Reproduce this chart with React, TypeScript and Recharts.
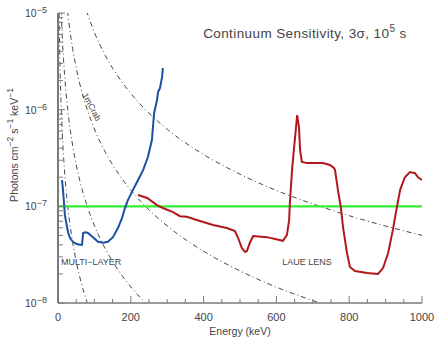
import React from 'react';
import { LineChart, Line, XAxis, YAxis, ReferenceLine, ReferenceDot } from 'recharts';

// ---- tick labels ----
const xTicks = [0, 50, 100, 150, 200, 250, 300, 350, 400, 450, 500, 550, 600, 650, 700, 750, 800, 850, 900, 950, 1000];
const xMajor = [0, 200, 400, 600, 800, 1000];
const yTicks = [
  1e-8, 2e-8, 3e-8, 4e-8, 5e-8, 6e-8, 7e-8, 8e-8, 9e-8,
  1e-7, 2e-7, 3e-7, 4e-7, 5e-7, 6e-7, 7e-7, 8e-7, 9e-7,
  1e-6, 2e-6, 3e-6, 4e-6, 5e-6, 6e-6, 7e-6, 8e-6, 9e-6,
  1e-5,
];
const yMajor = [1e-8, 1e-7, 1e-6, 1e-5];
const yMajorExp = ['8', '7', '6', '5'];

// ---- multi-layer (blue) ----
const blueE = [11, 13.7, 19, 27.5, 33, 41, 50, 60, 66, 69, 75, 82, 96, 110, 124, 137, 151, 165, 176, 184, 192, 206, 220, 234, 247, 258, 264, 272, 275, 280, 286, 288];
const blueV = [1.87e-7, 1.48e-7, 8.1e-8, 5.4e-8, 4.7e-8, 4.3e-8, 4.1e-8, 4.0e-8, 4.0e-8, 5.3e-8, 5.4e-8, 5.3e-8, 4.8e-8, 4.3e-8, 4.2e-8, 4.3e-8, 4.8e-8, 6.0e-8, 7.6e-8, 9.6e-8, 1.16e-7, 1.48e-7, 1.87e-7, 2.38e-7, 3.24e-7, 4.85e-7, 9.2e-7, 1.26e-6, 1.52e-6, 1.67e-6, 2.18e-6, 2.7e-6];

// ---- Laue lens (red) ----
const redE = [220, 245, 272, 288, 316, 335, 354, 390, 426, 464, 486, 495, 505, 514, 519, 527, 536, 574, 618, 629, 635, 637, 643, 648, 654, 657, 662, 665, 670, 684, 728, 747, 758, 761, 769, 777, 783, 794, 802, 816, 849, 879, 893, 907, 920, 931, 940, 953, 967, 981, 989, 1000];
const redV = [1.31e-7, 1.22e-7, 1.03e-7, 9.6e-8, 8.7e-8, 7.9e-8, 7.8e-8, 7.05e-8, 6.4e-8, 5.97e-8, 5.56e-8, 4.7e-8, 3.7e-8, 3.37e-8, 3.45e-8, 4.18e-8, 4.93e-8, 4.8e-8, 4.4e-8, 5.06e-8, 7.2e-8, 1.08e-7, 2.38e-7, 3.83e-7, 6.6e-7, 8.8e-7, 6.6e-7, 3.83e-7, 2.88e-7, 2.8e-7, 2.8e-7, 2.68e-7, 2.5e-7, 2.38e-7, 1.48e-7, 9.8e-8, 6.1e-8, 3.29e-8, 2.36e-8, 2.14e-8, 2.04e-8, 2.0e-8, 2.3e-8, 3.29e-8, 5.7e-8, 9.8e-8, 1.48e-7, 2.0e-7, 2.26e-7, 2.2e-7, 2.0e-7, 1.87e-7];

// ---- 3 sigma level (green) ----
const greenLevel = 1e-7;

// ---- Crab-fraction reference curves (dashed) ----
const crab001E = [2, 3, 4, 5, 6, 8, 10, 13, 16, 20, 25, 30, 40, 50, 60, 70, 80, 90];
const crab001V = [2.33e-5, 9.95e-6, 5.44e-6, 3.4e-6, 2.32e-6, 1.27e-6, 7.94e-7, 4.58e-7, 2.96e-7, 1.86e-7, 1.16e-7, 7.9e-8, 4.32e-8, 2.71e-8, 1.84e-8, 1.33e-8, 1.01e-8, 7.86e-9];
const crab01E = [5, 7, 9, 12, 15, 20, 25, 30, 40, 50, 60, 80, 100, 130, 160, 200, 250];
const crab01V = [3.4e-5, 1.68e-5, 9.9e-6, 5.41e-6, 3.39e-6, 1.86e-6, 1.16e-6, 7.9e-7, 4.32e-7, 2.71e-7, 1.84e-7, 1.01e-7, 6.31e-8, 3.63e-8, 2.35e-8, 1.47e-8, 9.2e-9];
const crab1E = [20, 25, 30, 40, 50, 60, 80, 100, 130, 160, 200, 250, 300, 400, 500, 600, 700, 800];
const crab1V = [1.86e-5, 1.16e-5, 7.9e-6, 4.32e-6, 2.71e-6, 1.84e-6, 1.01e-6, 6.31e-7, 3.63e-7, 2.35e-7, 1.47e-7, 9.2e-8, 6.27e-8, 3.43e-8, 2.15e-8, 1.46e-8, 1.06e-8, 8.0e-9];
const crab10E = [60, 80, 100, 130, 160, 200, 250, 300, 400, 500, 600, 700, 800, 900, 1000];
const crab10V = [1.84e-5, 1.01e-5, 6.31e-6, 3.63e-6, 2.35e-6, 1.47e-6, 9.2e-7, 6.27e-7, 3.43e-7, 2.15e-7, 1.46e-7, 1.06e-7, 8.0e-8, 6.25e-8, 5.01e-8];

const zip = (xs: number[], vs: number[]) => xs.map((E, i) => ({ E, v: vs[i] }));

const blueData = zip(blueE, blueV);
const redData = zip(redE, redV);
const dashed = [zip(crab001E, crab001V), zip(crab01E, crab01V), zip(crab1E, crab1V), zip(crab10E, crab10V)];

const FONT = "'Liberation Sans', Arial, sans-serif";
const AXIS = '#7a7a7a';
const TXT = '#444';

const isMajorY = (v: number) => yMajor.some((m) => Math.abs(v / m - 1) < 1e-6);

const BottomTick = (props: any) => {
  const { x, y, payload } = props;
  const major = xMajor.includes(payload.value);
  return (
    <g>
      <line x1={x} y1={y} x2={x} y2={y - (major ? 7 : 4)} stroke={AXIS} strokeWidth={1} />
      {major && (
        <text x={x} y={y + 18} textAnchor="middle" fontSize={11} fill={TXT} fontFamily={FONT}>
          {payload.value}
        </text>
      )}
    </g>
  );
};

const TopTick = (props: any) => {
  const { x, y, payload } = props;
  const major = xMajor.includes(payload.value);
  return <line x1={x} y1={y} x2={x} y2={y + (major ? 7 : 4)} stroke={AXIS} strokeWidth={1} />;
};

const LeftTick = (props: any) => {
  const { x, y, payload } = props;
  const major = isMajorY(payload.value);
  return <line x1={x} y1={y} x2={Number(x) + (major ? 7 : 5)} y2={y} stroke={AXIS} strokeWidth={1} />;
};

const RightTick = (props: any) => {
  const { x, y, payload } = props;
  const major = isMajorY(payload.value);
  return <line x1={x} y1={y} x2={Number(x) - (major ? 7 : 5)} y2={y} stroke={AXIS} strokeWidth={1} />;
};

const TextAt = (content: React.ReactNode, opts: { anchor?: string; size?: number; rotate?: number; spacing?: number; dx?: number }) => (p: any) => {
  const cx = p.cx + (opts.dx || 0);
  const cy = p.cy;
  return (
    <text
      x={cx}
      y={cy}
      textAnchor={opts.anchor || 'middle'}
      dominantBaseline="central"
      fontSize={opts.size || 9}
      letterSpacing={opts.spacing || 0}
      fill={TXT}
      fontFamily={FONT}
      transform={opts.rotate ? `rotate(${opts.rotate}, ${cx}, ${cy})` : undefined}
    >
      {content}
    </text>
  );
};

const DecadeLabel = (exp: string) => (p: any) => {
  const x = p.cx - 33;
  const y = p.cy + 4;
  return (
    <text x={x} y={y} textAnchor="start" fontSize={10.5} fill={TXT} fontFamily={FONT}>
      10
      <tspan dy={-4} fontSize={9}>{'\u2212' + exp}</tspan>
    </text>
  );
};

export default function App() {
  return (
    <div style={{ position: 'absolute', left: 0, top: 0, width: 436, height: 341, background: '#fff' }}>
      <LineChart width={436} height={341} margin={{ top: 13, right: 14, bottom: 0, left: 0 }} style={{ fontFamily: FONT }}>
        <XAxis
          dataKey="E"
          type="number"
          domain={[0, 1000]}
          ticks={xTicks}
          interval={0}
          height={38}
          tickSize={0}
          tickMargin={0}
          tickLine={false}
          axisLine={{ stroke: AXIS, strokeWidth: 1.5 }}
          tick={<BottomTick />}
          allowDataOverflow
          label={{ value: 'Energy (keV)', position: 'insideBottom', offset: 6, fontSize: 10.5, fill: TXT, fontFamily: FONT }}
        />
        <XAxis
          xAxisId="top"
          orientation="top"
          dataKey="E"
          type="number"
          domain={[0, 1000]}
          ticks={xTicks}
          interval={0}
          height={0}
          tickSize={0}
          tickMargin={0}
          tickLine={false}
          axisLine={{ stroke: AXIS, strokeWidth: 1.5 }}
          tick={<TopTick />}
        />
        <YAxis
          yAxisId="left"
          type="number"
          scale="log"
          domain={[1e-8, 1e-5]}
          ticks={yTicks}
          interval={0}
          width={58}
          tickSize={0}
          tickMargin={0}
          tickLine={false}
          axisLine={{ stroke: AXIS, strokeWidth: 2 }}
          tick={<LeftTick />}
          allowDataOverflow
          label={(props: any) => {
            const vb = props.viewBox;
            const cx = 14;
            const cy = vb ? vb.y + vb.height / 2 - 13 : 140;
            return (
              <text x={cx} y={cy} textAnchor="middle" dominantBaseline="central" fontSize={10.5} fill={TXT} fontFamily={FONT} transform={`rotate(-90, ${cx}, ${cy})`}>
                Photons cm
                <tspan dy={-4} fontSize={8.5}>{'\u22122'}</tspan>
                <tspan dy={4}> s</tspan>
                <tspan dy={-4} fontSize={8.5}>{'\u22121'}</tspan>
                <tspan dy={4}> keV</tspan>
                <tspan dy={-4} fontSize={8.5}>{'\u22121'}</tspan>
              </text>
            );
          }}
        />
        <YAxis
          yAxisId="right"
          orientation="right"
          type="number"
          scale="log"
          domain={[1e-8, 1e-5]}
          ticks={yTicks}
          interval={0}
          width={0}
          tickSize={0}
          tickMargin={0}
          tickLine={false}
          axisLine={{ stroke: AXIS, strokeWidth: 1.5 }}
          tick={<RightTick />}
          allowDataOverflow
        />

        {dashed.map((d, i) => (
          <Line
            key={'d' + i}
            yAxisId="left"
            data={d}
            dataKey="v"
            type="monotone"
            stroke="#333"
            strokeWidth={0.9}
            strokeDasharray="5 3 1 3"
            dot={false}
            isAnimationActive={false}
          />
        ))}

        <ReferenceLine yAxisId="left" y={greenLevel} stroke="#36ec36" strokeWidth={2.2} />

        <Line yAxisId="left" data={blueData} dataKey="v" type="linear" stroke="#1d4fa3" strokeWidth={2} dot={false} isAnimationActive={false} />
        <Line yAxisId="left" data={redData} dataKey="v" type="linear" stroke="#b0181c" strokeWidth={2} dot={false} isAnimationActive={false} />

        {yMajor.map((m, i) => (
          <ReferenceDot key={'yl' + i} yAxisId="left" x={0} y={m} r={1} ifOverflow="visible" shape={DecadeLabel(yMajorExp[i])} />
        ))}

        <ReferenceDot yAxisId="left" x={958} y={6.2e-6} r={1} shape={TextAt(<>Continuum Sensitivity, 3σ, 10<tspan dy={-5} fontSize={10}>5</tspan><tspan dy={5}> s</tspan></>, { anchor: 'end', size: 13.5, spacing: 0.4 })} />
        <ReferenceDot yAxisId="left" x={91} y={2.65e-8} r={1} shape={TextAt('MULTI\u2212LAYER', { size: 9 })} />
        <ReferenceDot yAxisId="left" x={684} y={2.65e-8} r={1} shape={TextAt('LAUE LENS', { size: 9 })} />
        <ReferenceDot yAxisId="left" x={93} y={1.07e-6} r={1} shape={TextAt('1mCrab', { size: 8.5, rotate: 62 })} />
      </LineChart>
    </div>
  );
}
